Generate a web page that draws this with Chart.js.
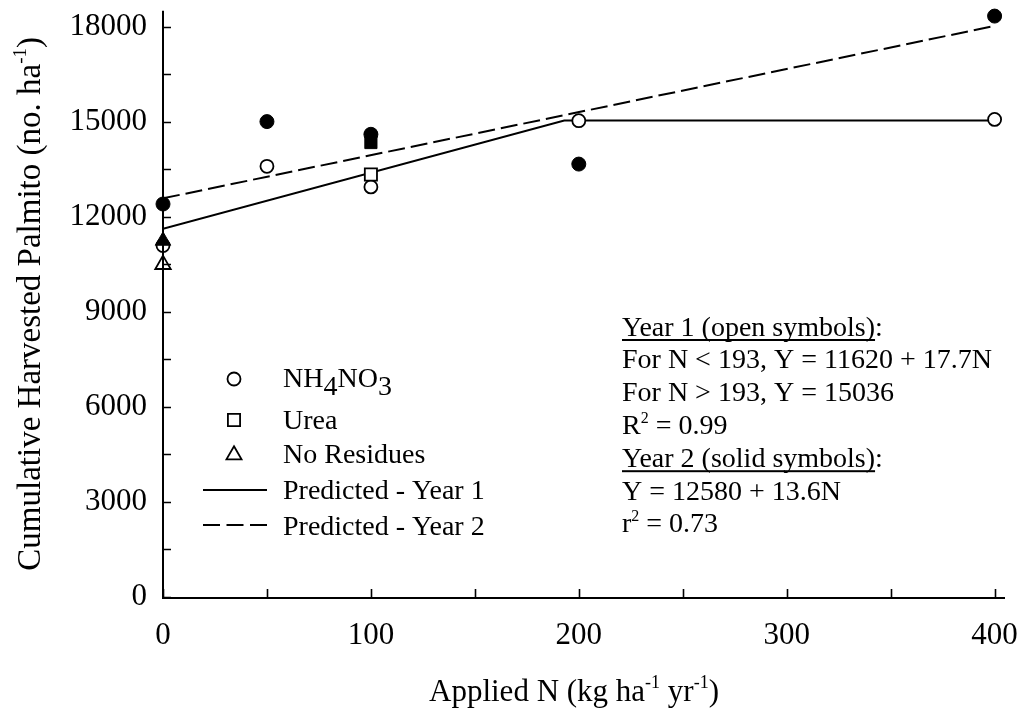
<!DOCTYPE html>
<html>
<head>
<meta charset="utf-8">
<script src="https://cdn.jsdelivr.net/npm/chart.js@4/dist/chart.umd.min.js"></script>
<style>
  html, body { margin: 0; padding: 0; background: #fff; }
  canvas { display: block; }
</style>
</head>
<body>
<canvas id="chart" width="1022" height="712"></canvas>
<script>
// Applied N rates (kg ha-1 yr-1) and cumulative harvested palmito (no. ha-1)
const nh4Rates = [0, 50, 100, 200, 400];
const nh4Year1 = [11090, 13590, 12940, 15030, 15070];
const nh4Year2 = [12400, 15000, 14600, 13660, 18330];
const ureaRates = [100];
const ureaYear1 = [13330];
const ureaYear2 = [14340];
const noResRates = [0];
const noResYear1 = [10490];
const noResYear2 = [11240];

// Fitted models
const predYear1N = [0, 193, 400];
const predYear1Y = [11620, 15036, 15036];
const predYear2N = [0, 400];
const predYear2Y = [12580, 18020];

// Axis ticks
const xTickValues = [0, 50, 100, 150, 200, 250, 300, 350, 400];
const yTickValues = [0, 1500, 3000, 4500, 6000, 7500, 9000, 10500, 12000, 13500, 15000, 16500, 18000];

const SERIF = '"Liberation Serif", "Times New Roman", serif';

function pairs(xs, ys) {
  return xs.map((x, i) => ({ x: x, y: ys[i] }));
}

function solid(label, xs, ys, style, r) {
  return {
    label: label, data: pairs(xs, ys), showLine: false, clip: false,
    pointStyle: style, pointRadius: r, pointHoverRadius: r,
    pointBackgroundColor: '#000', pointBorderColor: '#000', pointBorderWidth: 1
  };
}
function open(label, xs, ys, style, r) {
  return {
    label: label, data: pairs(xs, ys), showLine: false, clip: false,
    pointStyle: style, pointRadius: r, pointHoverRadius: r,
    pointBackgroundColor: '#fff', pointBorderColor: '#000', pointBorderWidth: 1.8
  };
}

// Draw a run of text pieces (plain, sub/superscript, underlined) from a baseline.
function richWidth(ctx, parts, size) {
  let w = 0;
  for (const p of parts) {
    ctx.font = (p.size || size) + 'px ' + SERIF;
    w += ctx.measureText(p.t).width;
  }
  return w;
}
function drawRich(ctx, x, y, parts, size) {
  let cx = x;
  for (const p of parts) {
    ctx.font = (p.size || size) + 'px ' + SERIF;
    ctx.fillText(p.t, cx, y + (p.dy || 0));
    const w = ctx.measureText(p.t).width;
    if (p.u) ctx.fillRect(cx, y + 3.5, w, 2);
    cx += w;
  }
  return cx;
}

// Axis lines with inward tick marks, drawn over the markers
const axesPlugin = {
  id: 'framedAxes',
  afterDatasetsDraw(chart) {
    const { ctx, chartArea: a, scales: { x, y } } = chart;
    ctx.save();
    ctx.strokeStyle = '#000';
    ctx.lineWidth = 2;
    ctx.lineCap = 'butt';
    ctx.beginPath();
    ctx.moveTo(a.left, a.top);
    ctx.lineTo(a.left, a.bottom + 1);
    ctx.lineTo(a.right, a.bottom + 1);
    ctx.stroke();
    ctx.lineWidth = 1.6;
    ctx.beginPath();
    for (const v of xTickValues) {
      const px = Math.round(x.getPixelForValue(v)) + 0.5;
      ctx.moveTo(px, a.bottom);
      ctx.lineTo(px, a.bottom - 8);
    }
    for (const v of yTickValues) {
      const py = Math.round(y.getPixelForValue(v)) + 0.5;
      ctx.moveTo(a.left, py);
      ctx.lineTo(a.left + 8, py);
    }
    ctx.stroke();
    ctx.restore();
  }
};

// Legend, model equations and axis titles
const textPlugin = {
  id: 'chartText',
  afterDraw(chart) {
    const { ctx, chartArea: a } = chart;
    ctx.save();
    ctx.fillStyle = '#000';
    ctx.strokeStyle = '#000';
    ctx.textBaseline = 'alphabetic';
    ctx.textAlign = 'left';

    // legend
    const mx = 234, tx = 283;
    const legend = [
      { style: 'circle', r: 6.5, my: 379, ty: 387,
        parts: [{ t: 'NH' }, { t: '4', dy: 8 }, { t: 'NO' }, { t: '3', dy: 8 }] },
      { style: 'rect', r: 8.6, my: 420, ty: 429, parts: [{ t: 'Urea' }] },
      { style: 'triangle', r: 8.7, my: 455, ty: 463, parts: [{ t: 'No Residues' }] },
      { line: [], my: 490, ty: 499, parts: [{ t: 'Predicted - Year 1' }] },
      { line: [17, 6.5], my: 525, ty: 535, parts: [{ t: 'Predicted - Year 2' }] }
    ];
    for (const item of legend) {
      if (item.line) {
        ctx.save();
        ctx.lineWidth = 2;
        ctx.setLineDash(item.line);
        ctx.beginPath();
        ctx.moveTo(203, item.my);
        ctx.lineTo(267, item.my);
        ctx.stroke();
        ctx.restore();
      } else {
        ctx.save();
        ctx.fillStyle = '#fff';
        ctx.lineWidth = 1.8;
        Chart.helpers.drawPoint(ctx, { pointStyle: item.style, radius: item.r, borderWidth: 1.8, rotation: 0 }, mx, item.my);
        ctx.restore();
      }
      drawRich(ctx, tx, item.ty, item.parts, 28);
    }

    // model equations
    const eqX = 622;
    const eqLines = [
      [{ t: 'Year 1 (open symbols)', u: true }, { t: ':' }],
      [{ t: 'For N < 193, Y = 11620 + 17.7N' }],
      [{ t: 'For N > 193, Y = 15036' }],
      [{ t: 'R' }, { t: '2', size: 16, dy: -11 }, { t: ' = 0.99' }],
      [{ t: 'Year 2 (solid symbols)', u: true }, { t: ':' }],
      [{ t: 'Y = 12580 + 13.6N' }],
      [{ t: 'r' }, { t: '2', size: 16, dy: -11 }, { t: ' = 0.73' }]
    ];
    eqLines.forEach((parts, i) => drawRich(ctx, eqX, 335.5 + i * 32.8, parts, 28));

    // x-axis title
    const xt = [{ t: 'Applied N (kg ha' }, { t: '-1', size: 18, dy: -13 }, { t: ' yr' }, { t: '-1', size: 18, dy: -13 }, { t: ')' }];
    const xw = richWidth(ctx, xt, 31);
    drawRich(ctx, 574 - xw / 2, 701, xt, 31);

    // y-axis title
    const yt = [{ t: 'Cumulative Harvested Palmito (no. ha' }, { t: '-1', size: 19, dy: -14 }, { t: ')' }];
    const yw = richWidth(ctx, yt, 33);
    ctx.translate(40, (a.top + a.bottom) / 2);
    ctx.rotate(-Math.PI / 2);
    drawRich(ctx, -yw / 2, 0, yt, 33);
    ctx.restore();
  }
};

new Chart(document.getElementById('chart'), {
  type: 'scatter',
  data: {
    datasets: [
      solid('No Residues - Year 2', noResRates, noResYear2, 'triangle', 8.9),
      solid('Urea - Year 2', ureaRates, ureaYear2, 'rect', 8.6),
      solid('NH4NO3 - Year 2', nh4Rates, nh4Year2, 'circle', 7),
      open('No Residues - Year 1', noResRates, noResYear1, 'triangle', 8.9),
      open('Urea - Year 1', ureaRates, ureaYear1, 'rect', 8.6),
      open('NH4NO3 - Year 1', nh4Rates, nh4Year1, 'circle', 6.5),
      {
        label: 'Predicted - Year 1', data: pairs(predYear1N, predYear1Y),
        showLine: true, pointRadius: 0, borderColor: '#000', borderWidth: 2, tension: 0
      },
      {
        label: 'Predicted - Year 2', data: pairs(predYear2N, predYear2Y),
        showLine: true, pointRadius: 0, borderColor: '#000', borderWidth: 2,
        borderDash: [17, 6], tension: 0
      }
    ]
  },
  options: {
    responsive: false,
    devicePixelRatio: 1,
    animation: false,
    layout: { padding: { left: 0, right: 17, top: 10, bottom: 0 } },
    plugins: { legend: { display: false }, tooltip: { enabled: false } },
    scales: {
      x: {
        type: 'linear', min: 0, max: 405,
        grid: { display: false, drawTicks: false }, border: { display: false },
        afterBuildTicks: (s) => { s.ticks = xTickValues.map(v => ({ value: v })); },
        afterFit: (s) => { s.height = 115; s.paddingLeft = 0; s.paddingRight = 0; },
        ticks: {
          autoSkip: false, maxRotation: 0, padding: 20, color: '#000',
          font: { family: SERIF, size: 31 },
          callback: (v) => (v % 100 === 0 ? String(v) : '')
        }
      },
      y: {
        type: 'linear', min: 0, max: 18500,
        grid: { display: false, drawTicks: false }, border: { display: false },
        afterBuildTicks: (s) => { s.ticks = yTickValues.map(v => ({ value: v })); },
        afterFit: (s) => { s.width = 163; s.paddingTop = 0; s.paddingBottom = 0; },
        ticks: {
          autoSkip: false, padding: 16, color: '#000',
          font: { family: SERIF, size: 31 },
          callback: (v) => (v % 3000 === 0 ? String(v) : '')
        }
      }
    }
  },
  plugins: [axesPlugin, textPlugin]
});
</script>
</body>
</html>
